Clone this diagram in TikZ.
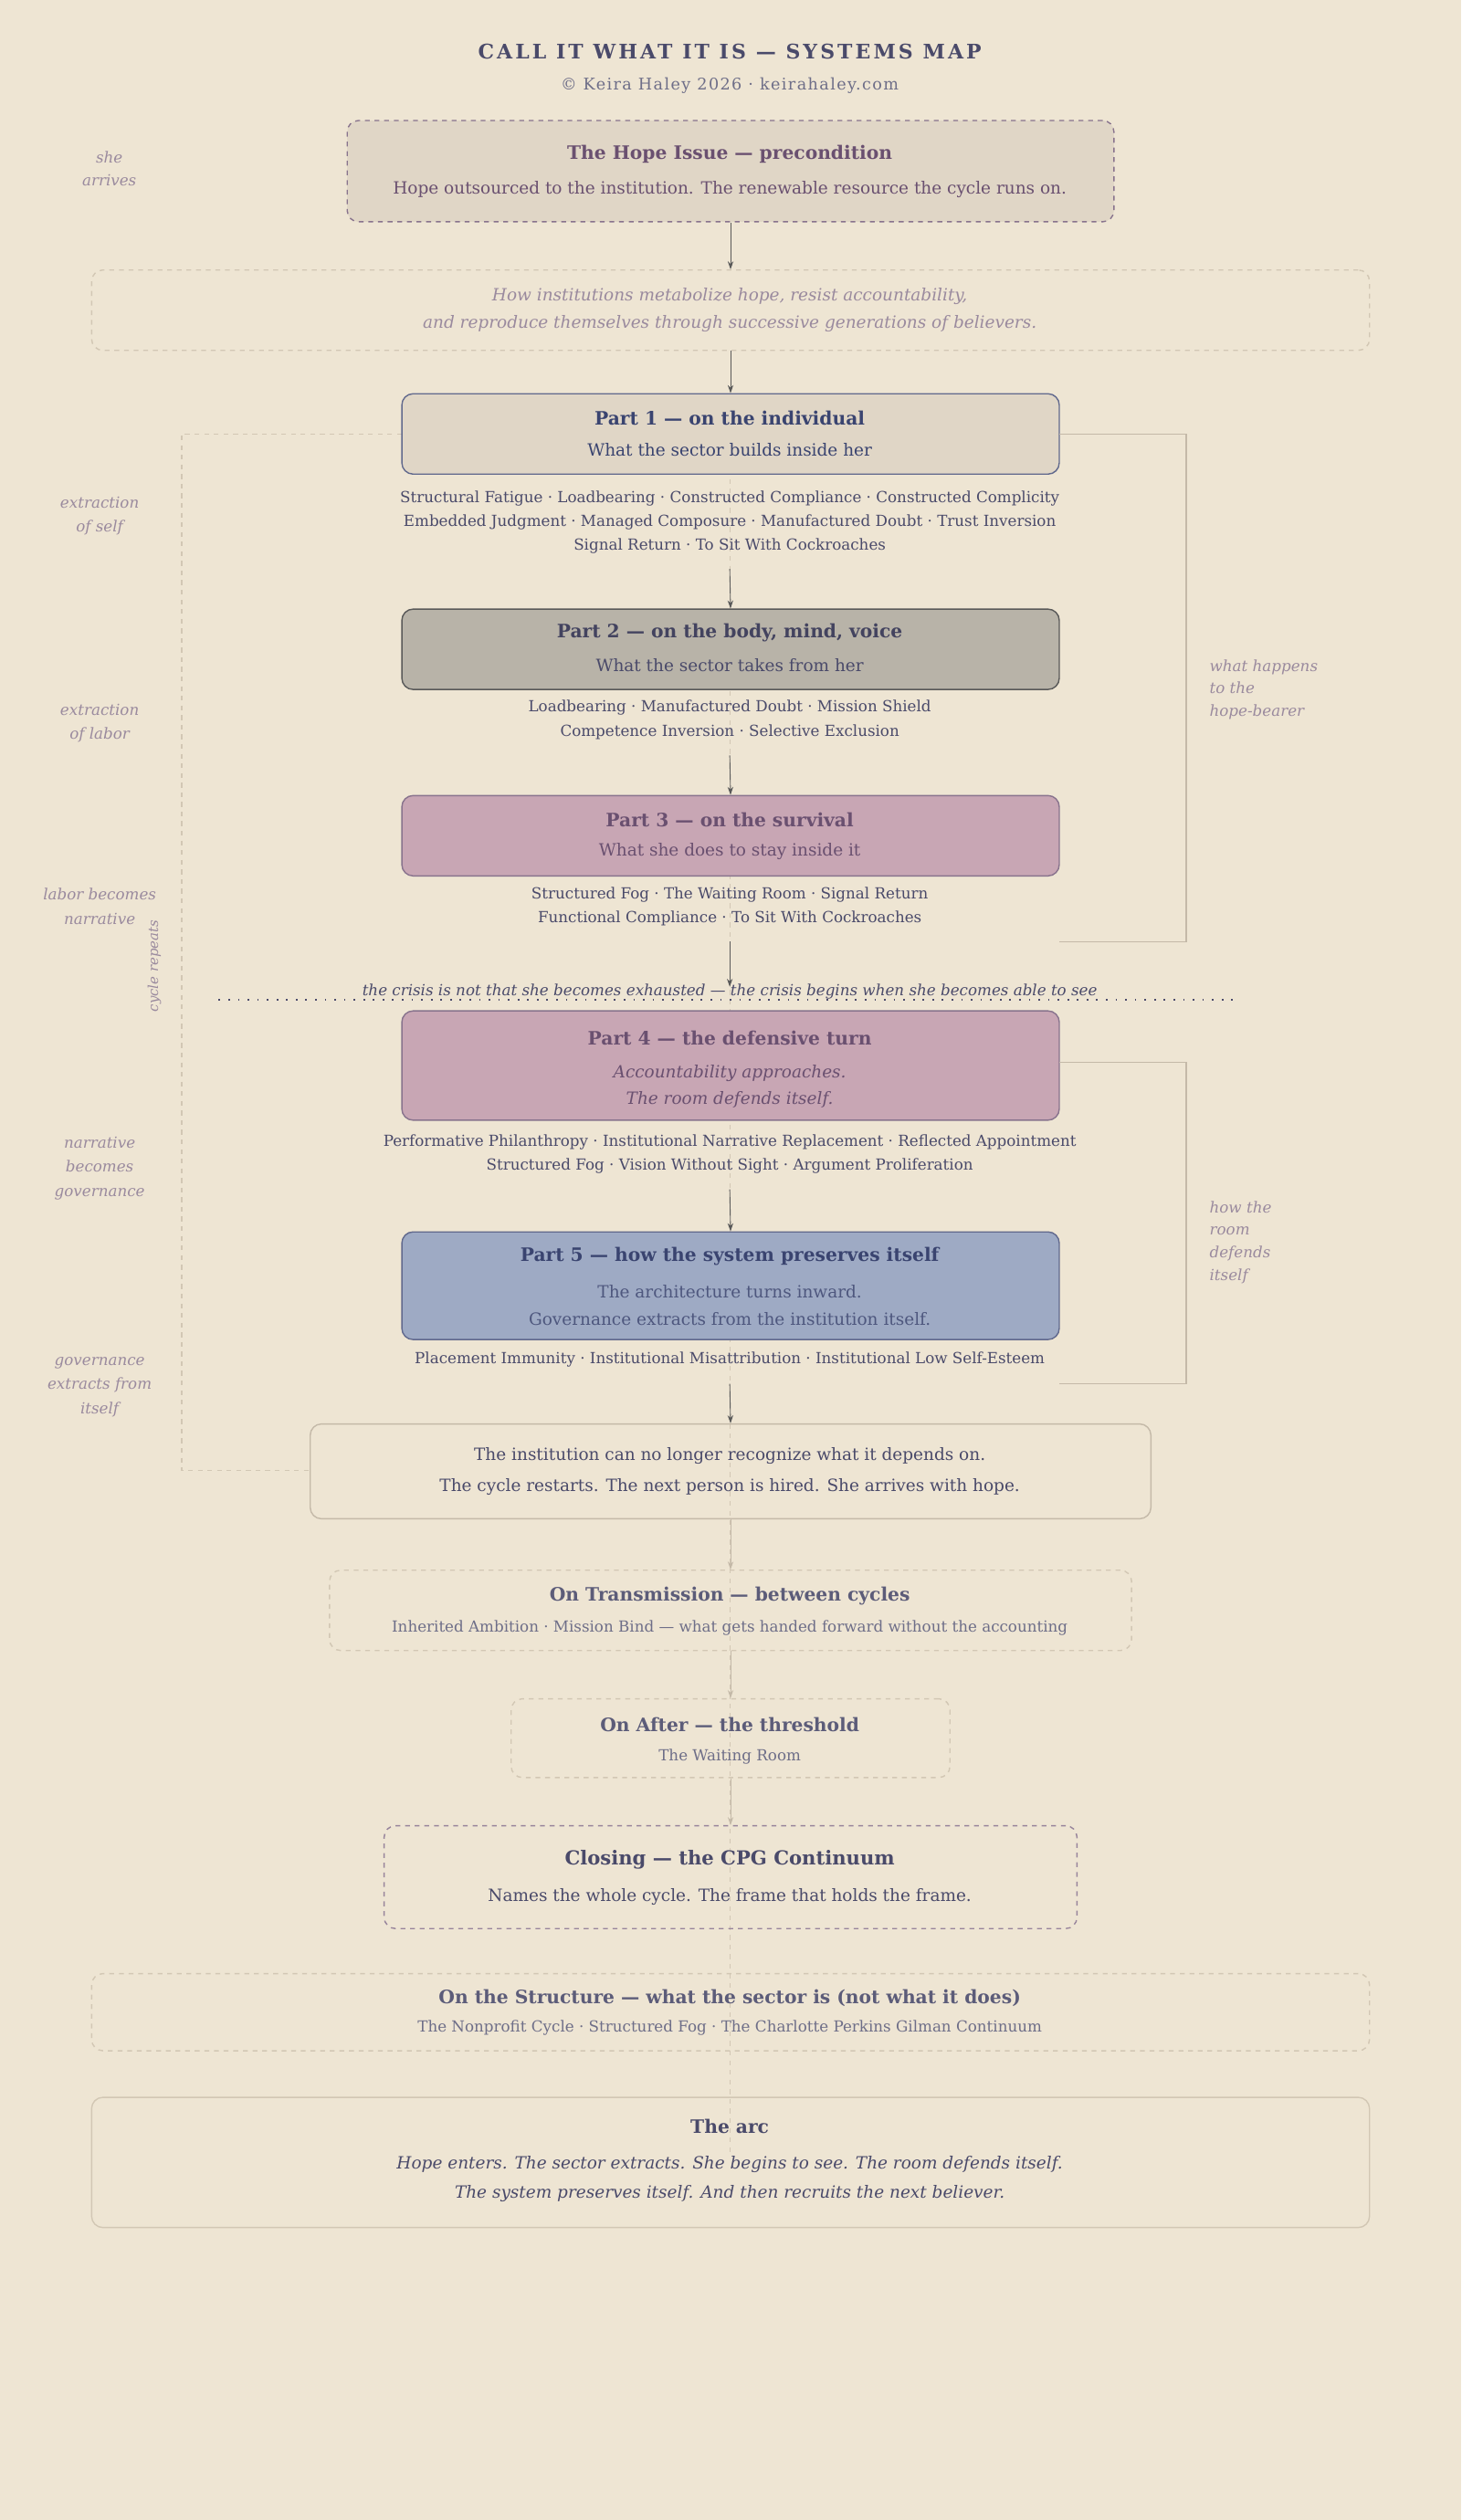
\documentclass[tikz,border=0pt]{standalone}
\usepackage{fontspec}
\setmainfont{DejaVu Serif}
\usetikzlibrary{arrows.meta}
\definecolor{bg}{HTML}{EEE5D3}
\definecolor{ink}{HTML}{4A4A6A}
\definecolor{mute}{HTML}{9A8A9E}
\definecolor{plum}{HTML}{6A5070}
\definecolor{navy}{HTML}{3A4470}
\definecolor{faint}{HTML}{D2C7B4}
\definecolor{rule}{HTML}{C4B9A8}
\definecolor{tan}{HTML}{E0D6C6}
\definecolor{gray2}{HTML}{B8B3A8}
\definecolor{rose}{HTML}{C8A6B4}
\definecolor{blue5}{HTML}{9EAAC4}
\tikzset{
  box/.style={draw, rounded corners=7pt, line width=0.8pt},
  ttl/.style={font=\fontsize{11.5}{13}\selectfont\bfseries},
  sub/.style={font=\fontsize{10.5}{12}\selectfont},
  itm/.style={font=\fontsize{9.5}{11}\selectfont, text=ink},
  side/.style={font=\fontsize{9.5}{11}\selectfont\itshape, text=mute, align=center},
  arr/.style={-{Stealth[length=5pt,width=3.5pt]}, draw=gray!70!black, line width=0.5pt},
  larr/.style={-{Stealth[length=5pt,width=3.5pt]}, draw=rule, line width=0.5pt},
}
\begin{document}
\begin{tikzpicture}[x=1pt,y=-1pt]
\fill[bg] (0,0) rectangle (909,1568);
\useasboundingbox (0,0) rectangle (909,1568);
% faint center line
\draw[faint, dashed, line width=0.5pt] (454,280) -- (454,1340);
% title
\node (title) at (454,32) {\addfontfeature{LetterSpace=14}\fontsize{12.5}{14}\selectfont\bfseries\color{ink}CALL IT WHAT IT IS — SYSTEMS MAP};
\node[font=\fontsize{10}{12}\selectfont\addfontfeature{LetterSpace=8}, text=ink!80] (cr) at (454,53) {© Keira Haley 2026 · keirahaley.com};
% hope
\node[box, dashed, draw=plum!80, fill=tan, minimum width=477pt, minimum height=63pt] (hope) at (454.5,106.5) {};
\node[ttl, text=plum] (hopet) at (454,96) {The Hope Issue — precondition};
\node[sub, text=plum] (hopes) at (454,118) {Hope outsourced to the institution. The renewable resource the cycle runs on.};
\node[side] (sa) at (68,105) {she\\[3pt]arrives};
% intro
\node[box, dashed, draw=faint, minimum width=795pt, minimum height=50pt] (intro) at (454.5,193) {};
\node[sub, font=\fontsize{10.5}{12}\selectfont\itshape, text=mute, align=center] (introt) at (454,193) {How institutions metabolize hope, resist accountability,\\[5pt]and reproduce themselves through successive generations of believers.};
\draw[arr] (hope.south) -- (intro.north);
% loop left
\draw[faint, dashed, line width=0.7pt] (250,270) -- (113,270) -- (113,915) -- (193,915);
\node[font=\fontsize{8.5}{10}\selectfont\itshape, text=mute, rotate=90] (cyc) at (96,601) {cycle repeats};
% part1
\node[box, draw=navy!80, fill=tan, minimum width=409pt, minimum height=50pt] (p1) at (454.5,270) {};
\draw[arr] (intro.south) -- (p1.north);
\node[ttl, text=navy] (p1t) at (454,260) {Part 1 — on the individual};
\node[sub, text=navy] (p1s) at (454,280) {What the sector builds inside her};
\node[itm, align=center] (p1i) at (454,325) {Structural Fatigue · Loadbearing · Constructed Compliance · Constructed Complicity\\[4pt]Embedded Judgment · Managed Composure · Manufactured Doubt · Trust Inversion\\[4pt]Signal Return · To Sit With Cockroaches};
\node[side] (l1) at (62,321) {extraction\\[4pt]of self};
% part2
\node[box, draw=gray!70!black, fill=gray2, minimum width=409pt, minimum height=50pt] (p2) at (454.5,404) {};
\coordinate (a1) at (454,354);
\draw[arr] (a1) -- (p2.north);
\node[ttl, text=ink!90!black] (p2t) at (454,394) {Part 2 — on the body, mind, voice};
\node[sub, text=ink] (p2s) at (454,414) {What the sector takes from her};
\node[itm, align=center] (p2i) at (454,448) {Loadbearing · Manufactured Doubt · Mission Shield\\[4pt]Competence Inversion · Selective Exclusion};
\node[side] (l2) at (62,450) {extraction\\[4pt]of labor};
% part3
\node[box, draw=plum!80, fill=rose, minimum width=409pt, minimum height=50pt] (p3) at (454.5,520) {};
\coordinate (a2) at (454,470);
\draw[arr] (a2) -- (p3.north);
\node[ttl, text=plum] (p3t) at (454,510) {Part 3 — on the survival};
\node[sub, text=plum] (p3s) at (454,530) {What she does to stay inside it};
\node[itm, align=center] (p3i) at (454,564) {Structured Fog · The Waiting Room · Signal Return\\[4pt]Functional Compliance · To Sit With Cockroaches};
\node[side] (l3) at (62,564) {labor becomes\\[4pt]narrative};
% right bracket 1
\draw[rule, line width=0.7pt] (659,270) -- (738,270) -- (738,586) -- (659,586);
\node[side, align=left, anchor=west] (r1) at (749,429) {what happens\\[3pt]to the\\[3pt]hope-bearer};
% crisis line
\coordinate (a3) at (454,586);
\coordinate (a3e) at (454,614);
\draw[arr] (a3) -- (a3e);
\draw[ink, dotted, line width=0.9pt, dash pattern=on 1pt off 5pt] (136,622) -- (768,622);
\node[font=\fontsize{9.5}{11}\selectfont\itshape, text=ink] (crisis) at (454,617) {the crisis is not that she becomes exhausted — the crisis begins when she becomes able to see};
% part4
\node[box, draw=plum!80, fill=rose, minimum width=409pt, minimum height=68pt] (p4) at (454.5,663) {};
\node[ttl, text=plum] (p4t) at (454,646) {Part 4 — the defensive turn};
\node[sub, font=\fontsize{10.5}{12}\selectfont\itshape, text=plum, align=center] (p4s) at (454,676) {Accountability approaches.\\[5pt]The room defends itself.};
\node[itm, align=center] (p4i) at (454,718) {Performative Philanthropy · Institutional Narrative Replacement · Reflected Appointment\\[4pt]Structured Fog · Vision Without Sight · Argument Proliferation};
\node[side] (l4) at (62,727) {narrative\\[4pt]becomes\\[4pt]governance};
% part5
\node[box, draw=navy!80, fill=blue5, minimum width=409pt, minimum height=67pt] (p5) at (454.5,800) {};
\coordinate (a4) at (454,740);
\draw[arr] (a4) -- (p5.north);
\node[ttl, text=navy] (p5t) at (454,782) {Part 5 — how the system preserves itself};
\node[sub, text=navy!90, align=center] (p5s) at (454,812) {The architecture turns inward.\\[5pt]Governance extracts from the institution itself.};
\node[itm] (p5i) at (454,846) {Placement Immunity · Institutional Misattribution · Institutional Low Self-Esteem};
\node[side] (l5) at (62,863) {governance\\[4pt]extracts from\\[4pt]itself};
% right bracket 2
\draw[rule, line width=0.7pt] (659,661) -- (738,661) -- (738,861) -- (659,861);
\node[side, align=left, anchor=west] (r2) at (749,773) {how the\\[3pt]room\\[3pt]defends\\[3pt]itself};
% restart
\node[box, draw=rule, minimum width=523pt, minimum height=59pt] (rs) at (454.5,915.5) {};
\coordinate (a5) at (454,861);
\draw[arr] (a5) -- (rs.north);
\node[sub, text=ink, align=center] (rst) at (454,915.5) {The institution can no longer recognize what it depends on.\\[7pt]The cycle restarts. The next person is hired. She arrives with hope.};
% transmission
\node[box, dashed, draw=faint, minimum width=499pt, minimum height=50pt] (tr) at (454.5,1002) {};
\draw[larr] (rs.south) -- (tr.north);
\node[ttl, text=ink!90] (trt) at (454,993) {On Transmission — between cycles};
\node[itm, text=ink!80] (trs) at (454,1013) {Inherited Ambition · Mission Bind — what gets handed forward without the accounting};
% after
\node[box, dashed, draw=faint, minimum width=273pt, minimum height=49pt] (af) at (454.5,1081.5) {};
\draw[larr] (tr.south) -- (af.north);
\node[ttl, text=ink!90] (aft) at (454,1073) {On After — the threshold};
\node[itm, text=ink!80] (afs) at (454,1093) {The Waiting Room};
% closing
\node[box, dashed, draw=plum!70, minimum width=431pt, minimum height=64pt] (cl) at (454.5,1168) {};
\draw[larr] (af.south) -- (cl.north);
\node[ttl, font=\fontsize{12}{14}\selectfont\bfseries, text=ink] (clt) at (454,1157) {Closing — the CPG Continuum};
\node[sub, text=ink] (cls) at (454,1180) {Names the whole cycle. The frame that holds the frame.};
% structure
\node[box, dashed, draw=faint, minimum width=795pt, minimum height=48pt] (st) at (454.5,1252) {};
\node[ttl, text=ink!90] (stt) at (454,1243) {On the Structure — what the sector is (not what it does)};
\node[itm, text=ink!80] (sts) at (454,1262) {The Nonprofit Cycle · Structured Fog · The Charlotte Perkins Gilman Continuum};
% arc
\node[box, draw=faint, minimum width=795pt, minimum height=81pt] (arc) at (454.5,1345.5) {};
\node[ttl, text=ink] (arct) at (454,1323) {The arc};
\node[sub, font=\fontsize{10.5}{12}\selectfont\itshape, text=ink, align=center] (arcs) at (454,1356) {Hope enters. The sector extracts. She begins to see. The room defends itself.\\[6pt]The system preserves itself. And then recruits the next believer.};
\end{tikzpicture}
\end{document}
